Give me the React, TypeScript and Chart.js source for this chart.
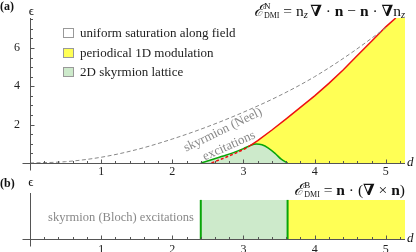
import { useEffect, useRef } from 'react';
import { Chart, registerables } from 'chart.js';
Chart.register(...registerables);

const FONT = '"Liberation Serif", "Times New Roman", "DejaVu Serif", serif';

// ---- Panel (a) data ----
const neelD = [0, 0.5, 1, 1.5, 2, 2.5, 3, 3.5, 4, 4.5, 5.0];
const neelE = [0, 0.07, 0.3, 0.7, 1.25, 1.9, 2.65, 3.5, 4.5, 5.7, 7.05];
const helixD = [2.55, 2.7, 2.85, 3.0, 3.05, 3.1, 3.2, 3.4, 3.6, 3.8, 4.0, 4.2, 4.4, 4.6, 4.8, 5.0, 5.14];
const helixE = [0, 0.22, 0.45, 0.7, 0.8, 0.92, 1.17, 1.72, 2.3, 2.9, 3.5, 4.15, 4.85, 5.6, 6.35, 7.1, 7.56];
const latticeD = [2.4, 2.55, 2.7, 2.85, 3.0, 3.1, 3.18, 3.26, 3.35, 3.45, 3.53, 3.62];
const latticeE = [0, 0.17, 0.35, 0.53, 0.75, 0.92, 0.99, 0.95, 0.78, 0.48, 0.2, 0];
const helixDashEnd = 3.1;
const dMax = 5.27;
const epsMaxA = 7.56;
const legendLabels = ['uniform saturation along field', 'periodical 1D modulation', '2D skyrmion lattice'];

// ---- Panel (b) data ----
const bSkyrmionRange = [2.4, 3.62];
const bHelixRange = [3.62, 5.27];
const bBandTop = 0.85;
const epsMaxB = 1;

const YELLOW = '#ffff55';
const LGREEN = '#cdeacb';
const GREEN = '#09a509';
const RED = '#ee1111';
const GRAY = '#888888';
const AXIS = '#555555';
const legendColors = ['#ffffff', YELLOW, LGREEN];

const pts = (xs: number[], ys: number[]) => xs.map((x, i) => ({ x, y: ys[i] }));

type Part = { t: string; f: string; dy?: number; adv?: boolean };
function drawParts(ctx: CanvasRenderingContext2D, parts: Part[], right: number, base: number) {
  let w = 0;
  for (const p of parts) {
    ctx.font = p.f;
    if (p.adv !== false) w += ctx.measureText(p.t).width;
  }
  let x = right - w;
  ctx.textAlign = 'left';
  ctx.textBaseline = 'alphabetic';
  for (const p of parts) {
    ctx.font = p.f;
    ctx.fillText(p.t, x, base + (p.dy || 0));
    if (p.adv !== false) x += ctx.measureText(p.t).width;
  }
}

function drawAxes(chart: any, yMajorStep: number | null, yMinorStep: number | null, labelDy: number) {
  const { ctx, chartArea: ca, scales } = chart;
  const xs = scales.x, ys = scales.y;
  const x0 = Math.round(xs.getPixelForValue(0)) + 0.5;
  const y0 = Math.round(ys.getPixelForValue(0)) + 0.5;
  ctx.save();
  ctx.strokeStyle = AXIS;
  ctx.lineWidth = 1;
  ctx.beginPath();
  ctx.moveTo(x0 - 8, y0);
  ctx.lineTo(ca.right, y0);
  ctx.moveTo(x0, y0 + 7);
  ctx.lineTo(x0, ca.top);
  for (let i = 1; i * 0.2 <= dMax + 1e-9; i++) {
    const px = Math.round(xs.getPixelForValue(i * 0.2)) + 0.5;
    const len = i % 5 === 0 ? 4 : 2.5;
    ctx.moveTo(px, y0);
    ctx.lineTo(px, y0 - len);
  }
  if (yMinorStep && yMajorStep) {
    const n = Math.round(yMajorStep / yMinorStep);
    for (let i = 1; i * yMinorStep <= ys.max + 1e-9; i++) {
      const py = Math.round(ys.getPixelForValue(i * yMinorStep)) + 0.5;
      const len = i % n === 0 ? 4 : 2.5;
      ctx.moveTo(x0, py);
      ctx.lineTo(x0 + len, py);
    }
  }
  ctx.stroke();
  // x tick labels from the library's own ticks
  ctx.fillStyle = '#222';
  ctx.font = `12px ${FONT}`;
  ctx.textAlign = 'center';
  ctx.textBaseline = 'alphabetic';
  for (const t of xs.ticks) {
    if (t.value === 0) continue;
    ctx.fillText(String(t.value), xs.getPixelForValue(t.value), y0 + labelDy);
  }
  ctx.restore();
}

const decorA = {
  id: 'decorA',
  afterDraw(chart: any) {
    const { ctx, scales } = chart;
    drawAxes(chart, 2, 0.5, 11.5);
    const y0 = scales.y.getPixelForValue(0);
    ctx.save();
    ctx.fillStyle = '#111';
    ctx.textBaseline = 'alphabetic';
    ctx.textAlign = 'left';
    ctx.font = `bold 12px ${FONT}`;
    ctx.fillText('(a)', 0, 10);
    ctx.textAlign = 'center';
    ctx.font = `13px ${FONT}`;
    ctx.fillText('ϵ', 31.5, 15);
    ctx.textAlign = 'left';
    ctx.font = `italic 13px ${FONT}`;
    ctx.fillText('d', 407, y0 + 3);

    // legend
    const tops = [28, 48, 67];
    legendLabels.forEach((lab, i) => {
      ctx.fillStyle = legendColors[i];
      ctx.fillRect(63.5, tops[i] + 0.5, 10, 9);
      ctx.strokeStyle = '#999';
      ctx.lineWidth = 1;
      ctx.strokeRect(63.5, tops[i] + 0.5, 10, 9);
      ctx.fillStyle = '#222';
      ctx.font = `13px ${FONT}`;
      ctx.textAlign = 'left';
      ctx.fillText(lab, 80, tops[i] + 9);
    });

    // formula
    ctx.fillStyle = '#111';
    const M = `15.5px ${FONT}`, B = `bold 15.5px ${FONT}`, SI = `italic 10.5px ${FONT}`;
    drawParts(ctx, [
      { t: 'ℰ', f: `italic 16px ${FONT}` },
      { t: 'N', f: `9px ${FONT}`, dy: -7, adv: false },
      { t: 'DMI', f: `8px ${FONT}`, dy: 2 },
      { t: ' = ', f: M },
      { t: 'n', f: M }, { t: 'z', f: SI, dy: 2 }, { t: ' ', f: `10px ${FONT}` },
      { t: '∇', f: B }, { t: ' · ', f: M }, { t: 'n', f: B },
      { t: ' − ', f: M }, { t: 'n', f: B }, { t: ' · ', f: M },
      { t: '∇', f: B }, { t: 'n', f: M }, { t: 'z', f: SI, dy: 2 },
    ], 405, 16);

    // rotated labels
    ctx.fillStyle = GRAY;
    ctx.font = `13px ${FONT}`;
    ctx.textAlign = 'center';
    ctx.textBaseline = 'middle';
    ctx.save();
    ctx.translate(223, 130);
    ctx.rotate(-26 * Math.PI / 180);
    ctx.fillText('skyrmion (Neel)', 0, 0);
    ctx.restore();
    ctx.save();
    ctx.translate(229, 146);
    ctx.rotate(-24 * Math.PI / 180);
    ctx.fillText('excitations', 0, 0);
    ctx.restore();
    ctx.restore();
  },
};

const decorB = {
  id: 'decorB',
  afterDraw(chart: any) {
    const { ctx, scales } = chart;
    drawAxes(chart, null, null, 13.5);
    const y0 = scales.y.getPixelForValue(0);
    ctx.save();
    ctx.fillStyle = '#111';
    ctx.textBaseline = 'alphabetic';
    ctx.textAlign = 'left';
    ctx.font = `bold 12px ${FONT}`;
    ctx.fillText('(b)', 0, 12);
    ctx.textAlign = 'center';
    ctx.font = `13px ${FONT}`;
    ctx.fillText('ϵ', 31, 11);
    ctx.textAlign = 'left';
    ctx.font = `italic 13px ${FONT}`;
    ctx.fillText('d', 407, y0 + 3);

    const M = `15.5px ${FONT}`, B = `bold 15.5px ${FONT}`;
    drawParts(ctx, [
      { t: 'ℰ', f: `italic 16px ${FONT}` },
      { t: 'B', f: `9px ${FONT}`, dy: -7, adv: false },
      { t: 'DMI', f: `8px ${FONT}`, dy: 2 },
      { t: ' = ', f: M },
      { t: 'n', f: B }, { t: ' · (', f: M }, { t: '∇', f: B },
      { t: ' × ', f: M }, { t: 'n', f: B }, { t: ')', f: M },
    ], 405, 20);

    ctx.fillStyle = GRAY;
    ctx.font = `12.5px ${FONT}`;
    ctx.textAlign = 'center';
    ctx.fillText('skyrmion (Bloch) excitations', 121, 46);
    ctx.restore();
  },
};

function baseScales(yMax: number, yStep: number, showY: boolean) {
  return {
    x: {
      type: 'linear', min: 0, max: dMax,
      grid: { display: false }, border: { display: false },
      ticks: { display: false, stepSize: 1, includeBounds: false },
      afterFit: (s: any) => { s.height = 0; },
    },
    y: {
      type: 'linear', min: 0, max: yMax,
      grid: { display: false }, border: { display: false },
      ticks: {
        display: showY, stepSize: yStep, includeBounds: false, padding: 2, color: '#222',
        font: { family: FONT, size: 12 },
        callback: (v: number) => (v === 0 ? '' : String(v)),
      },
      afterFit: (s: any) => { s.width = 30; },
    },
  };
}

export default function App() {
  const refA = useRef<HTMLCanvasElement>(null);
  const refB = useRef<HTMLCanvasElement>(null);

  useEffect(() => {
    const chartA = new Chart(refA.current as HTMLCanvasElement, {
      type: 'line',
      data: {
        datasets: [
          {
            label: 'periodical 1D modulation',
            data: [...pts(helixD, helixE), { x: dMax, y: epsMaxA }],
            fill: 'origin', backgroundColor: YELLOW, borderWidth: 0, pointRadius: 0, order: 5, tension: 0,
          },
          {
            label: '2D skyrmion lattice',
            data: pts(latticeD, latticeE),
            fill: 'origin', backgroundColor: LGREEN, borderColor: GREEN, borderWidth: 1.5,
            pointRadius: 0, order: 4, cubicInterpolationMode: 'monotone',
          },
          {
            label: 'helix boundary',
            data: pts(helixD, helixE),
            fill: false, borderColor: RED, borderWidth: 1.5, pointRadius: 0, order: 3, tension: 0,
            segment: { borderDash: (c: any) => (c.p1.parsed.x <= helixDashEnd + 1e-9 ? [3, 2] : []) },
          },
          {
            label: 'skyrmion (Neel) excitations',
            data: pts(neelD, neelE),
            fill: false, borderColor: GRAY, borderWidth: 1, borderDash: [4, 2.5], pointRadius: 0,
            order: 2, cubicInterpolationMode: 'monotone',
          },
        ],
      } as any,
      options: {
        responsive: false,
        animation: false,
        layout: { padding: { left: 0, right: 11, top: 18, bottom: 12 } },
        plugins: { legend: { display: false }, tooltip: { enabled: false } },
        scales: baseScales(epsMaxA, 2, true) as any,
      },
      plugins: [decorA],
    });

    const chartB = new Chart(refB.current as HTMLCanvasElement, {
      type: 'line',
      data: {
        datasets: [
          {
            label: 'skyrmion lattice band',
            data: [
              { x: bSkyrmionRange[0], y: 0 }, { x: bSkyrmionRange[0], y: bBandTop },
              { x: bSkyrmionRange[1], y: bBandTop }, { x: bSkyrmionRange[1], y: 0 },
            ],
            fill: 'origin', backgroundColor: LGREEN, borderWidth: 0, pointRadius: 0, order: 5,
          },
          {
            label: 'helix band',
            data: [
              { x: bHelixRange[0], y: 0 }, { x: bHelixRange[0], y: bBandTop },
              { x: bHelixRange[1], y: bBandTop }, { x: bHelixRange[1], y: 0 },
            ],
            fill: 'origin', backgroundColor: YELLOW, borderWidth: 0, pointRadius: 0, order: 4,
          },
          {
            label: 'left edge',
            data: [{ x: bSkyrmionRange[0], y: 0 }, { x: bSkyrmionRange[0], y: bBandTop }],
            fill: false, borderColor: GREEN, borderWidth: 2, pointRadius: 0, order: 3,
          },
          {
            label: 'right edge',
            data: [{ x: bSkyrmionRange[1], y: 0 }, { x: bSkyrmionRange[1], y: bBandTop }],
            fill: false, borderColor: GREEN, borderWidth: 2, pointRadius: 0, order: 2,
          },
        ],
      } as any,
      options: {
        responsive: false,
        animation: false,
        layout: { padding: { left: 0, right: 11, top: 18, bottom: 13 } },
        plugins: { legend: { display: false }, tooltip: { enabled: false } },
        scales: baseScales(epsMaxB, 1, false) as any,
      },
      plugins: [decorB],
    });

    return () => {
      chartA.destroy();
      chartB.destroy();
    };
  }, []);

  return (
    <div style={{ position: 'absolute', left: 0, top: 0, width: 416, height: 252, background: '#fff' }}>
      <canvas ref={refA} width={416} height={175} style={{ display: 'block', width: 416, height: 175 }} />
      <canvas ref={refB} width={416} height={77} style={{ display: 'block', width: 416, height: 77 }} />
    </div>
  );
}
